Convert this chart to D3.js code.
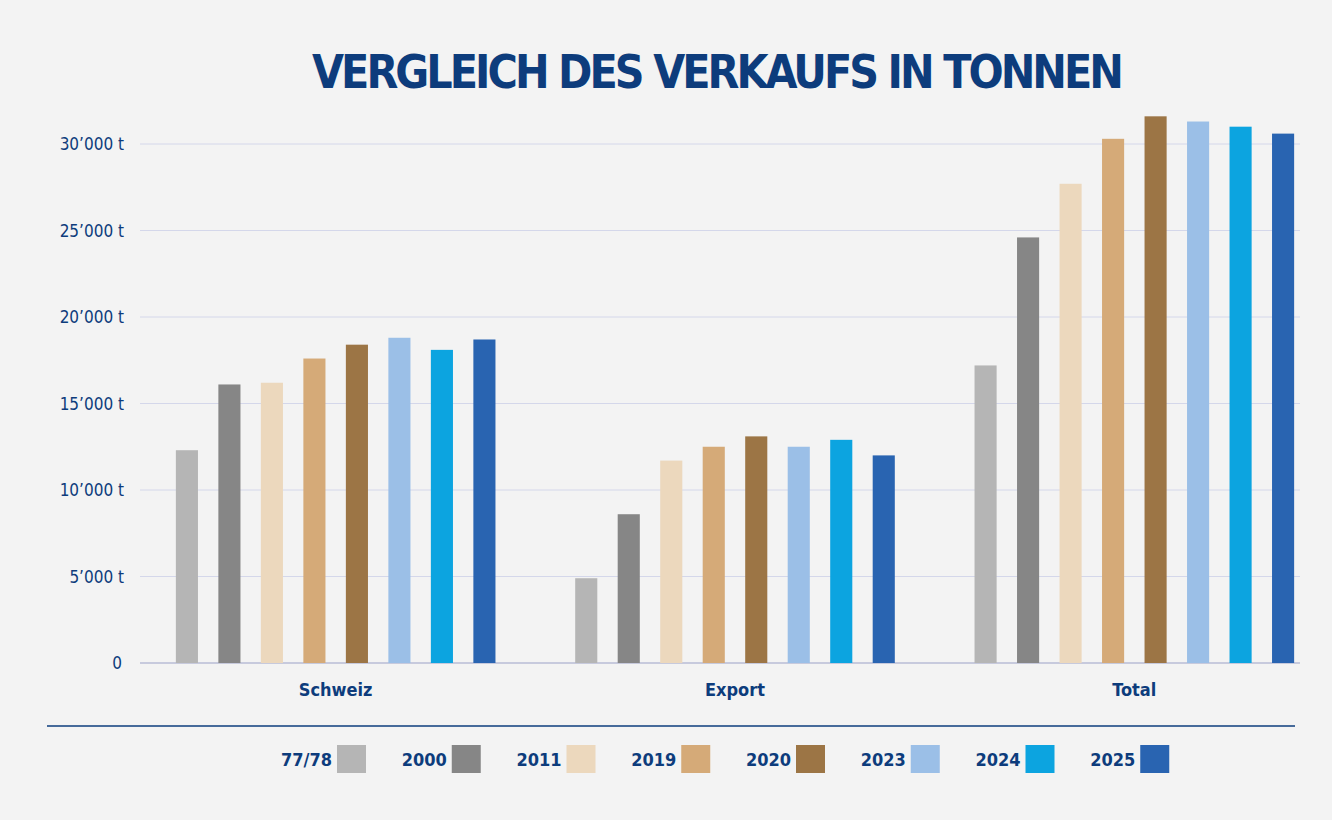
<!DOCTYPE html>
<html><head><meta charset="utf-8">
<script src="https://cdn.jsdelivr.net/npm/d3@7"></script>
<style>body{margin:0;background:#f3f3f3}</style>
</head><body><svg width="1332" height="820"></svg>
<script>
// chart data
const groups = ["Schweiz", "Export", "Total"];
const years = ["77/78", "2000", "2011", "2019", "2020", "2023", "2024", "2025"];
const schweiz = [12300, 16100, 16200, 17600, 18400, 18800, 18100, 18700];
const exportVals = [4900, 8600, 11700, 12500, 13100, 12500, 12900, 12000];
const total = [17200, 24600, 27700, 30300, 31600, 31300, 31000, 30600];
const colors = ["#b5b5b5", "#868686", "#ecd8bd", "#d5aa78", "#9c7545", "#9bbfe7", "#0ca4e0", "#2964b1"];
const yTicks = [0, 5000, 10000, 15000, 20000, 25000, 30000];
const series = [schweiz, exportVals, total];

const navy = "#0d3c7c";
const font = "'DejaVu Sans Condensed', 'Liberation Sans Narrow', sans-serif";
const svg = d3.select("svg");
svg.append("rect").attr("width", 1332).attr("height", 820).attr("fill", "#f3f3f3");

svg.append("text").attr("x", 718).attr("y", 88).attr("text-anchor", "middle")
  .attr("font-family", font).attr("font-weight", "bold").attr("font-size", 46)
  .attr("fill", navy).attr("textLength", 812).text("VERGLEICH DES VERKAUFS IN TONNEN");

const y = d3.scaleLinear().domain([0, 30000]).range([663, 144]);
const x0 = d3.scaleBand().domain(groups).range([136, 1334]);
const x1 = d3.scaleBand().domain(years).range([0, 340]).paddingInner(0.48).paddingOuter(0.24);

const fmt = v => v === 0 ? "0" : d3.format(",")(v).replace(",", "’") + " t";

const grid = svg.append("g");
yTicks.forEach(t => {
  grid.append("line").attr("x1", 140).attr("x2", 1300).attr("y1", y(t)).attr("y2", y(t))
    .attr("stroke", t === 0 ? "#b8bdd6" : "#d4d7ea").attr("stroke-width", t === 0 ? 1.5 : 1);
  grid.append("text").attr("x", t === 0 ? 122 : 124).attr("y", y(t) + 6).attr("text-anchor", "end")
    .attr("font-family", font).attr("font-size", 17).attr("fill", navy).text(fmt(t));
});

groups.forEach((g, gi) => {
  const gx = x0(g) + (x0.bandwidth() - 340) / 2;
  series[gi].forEach((v, i) => {
    svg.append("rect").attr("x", gx + x1(years[i])).attr("y", y(v))
      .attr("width", x1.bandwidth()).attr("height", y(0) - y(v)).attr("fill", colors[i]);
  });
  svg.append("text").attr("x", x0(g) + x0.bandwidth() / 2).attr("y", 696).attr("text-anchor", "middle")
    .attr("font-family", font).attr("font-weight", "bold").attr("font-size", 18).attr("fill", navy).text(g);
});

svg.append("line").attr("x1", 47).attr("x2", 1295).attr("y1", 726).attr("y2", 726)
  .attr("stroke", navy).attr("stroke-width", 1.5);

const legX = d3.scaleBand().domain(years).range([252, 1170]);
years.forEach((yr, i) => {
  const lx = legX(yr);
  svg.append("text").attr("x", lx + 80).attr("y", 766).attr("text-anchor", "end")
    .attr("font-family", font).attr("font-weight", "bold").attr("font-size", 18).attr("fill", navy).text(yr);
  svg.append("rect").attr("x", lx + 85).attr("y", 745).attr("width", 29).attr("height", 28).attr("fill", colors[i]);
});
</script></body></html>
